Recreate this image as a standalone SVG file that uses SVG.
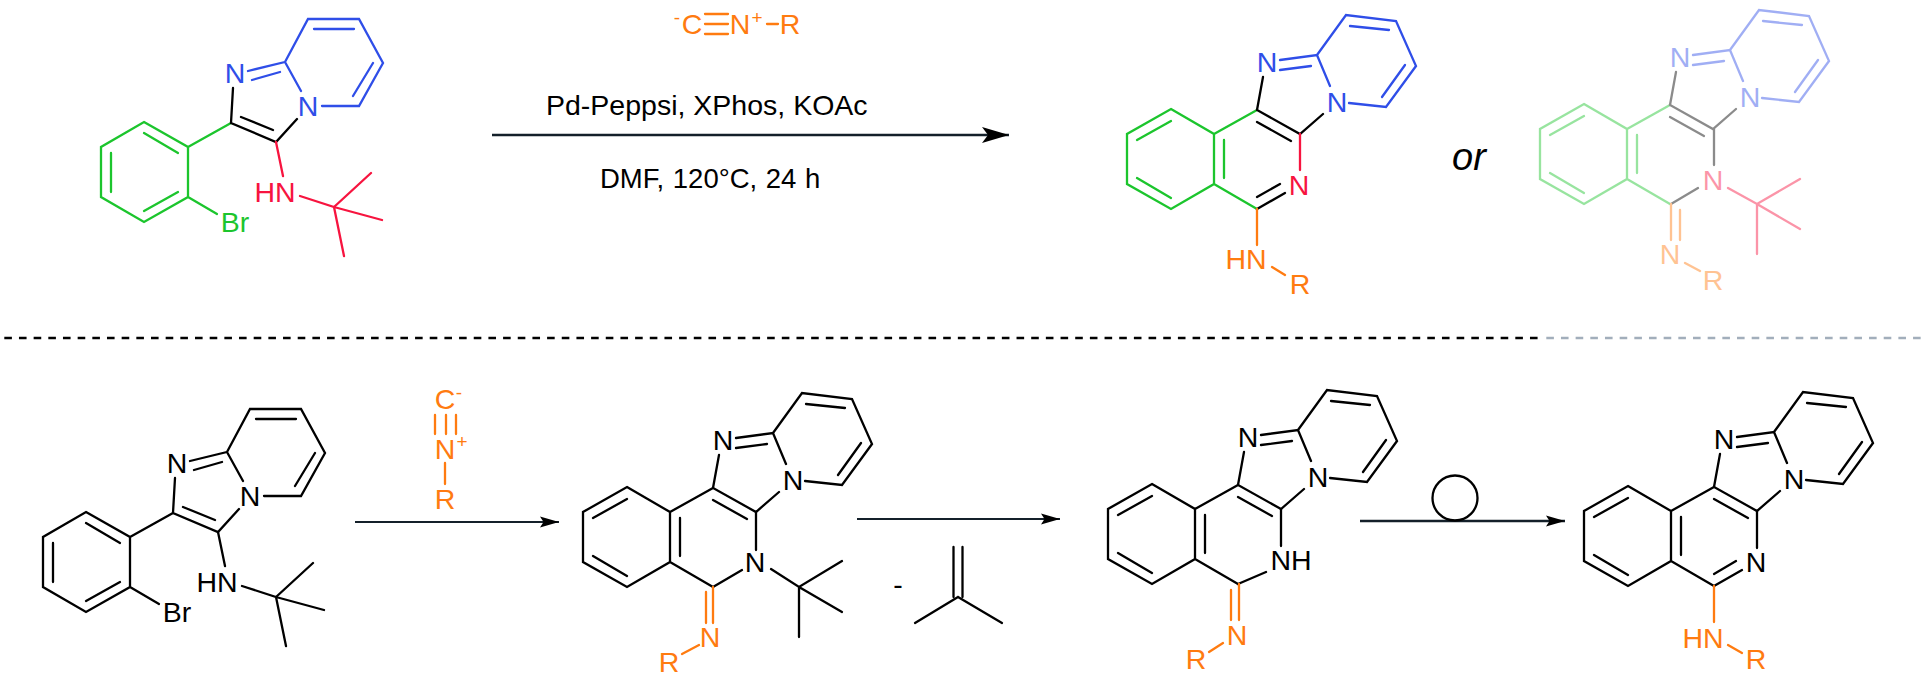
<svg xmlns="http://www.w3.org/2000/svg" xmlns:xlink="http://www.w3.org/1999/xlink" width="1924" height="676" viewBox="0 0 1924 676">
<style>
.l{fill:none;stroke-width:2.3;stroke-linecap:round;stroke-linejoin:miter}
.g{stroke:var(--g)}.b{stroke:var(--b)}.k{stroke:var(--k)}.r{stroke:var(--r)}.o{stroke:var(--o)}
text{font-family:"Liberation Sans",Arial,sans-serif;font-size:28.5px;text-anchor:middle}
.tg{fill:var(--g)}.tb{fill:var(--b)}.tr{fill:var(--r)}.to{fill:var(--o)}.tk{fill:var(--k)}
.sup{font-size:19px}
.color{--g:#1cc52d;--b:#2f4ee8;--r:#f7143f;--o:#ff7b10;--k:#000}
.mono{--g:#000;--b:#000;--r:#000;--o:#ff7b10;--k:#000}
.rxn{font-size:28.5px;fill:#000;text-anchor:start}
.arr{fill:none;stroke:#14202a;stroke-linecap:butt}
.dash{fill:none;stroke-width:2.4;stroke-dasharray:7.6 7.07}
</style>
<defs>
<marker id="headL" markerUnits="userSpaceOnUse" markerWidth="30" markerHeight="20" refX="27" refY="10" orient="auto"><path d="M0,2 L27,10 L0,18 L6,10Z" fill="#000"/></marker>
<marker id="headS" markerUnits="userSpaceOnUse" markerWidth="22" markerHeight="14" refX="19" refY="7" orient="auto"><path d="M0,1.5 L19,7 L0,12.5 L3.5,7Z" fill="#000"/></marker>
<g id="tetracycle">
<path class="l g" d="M0,0L43,25L43,75L0,100L-44,75L-44,25ZM-34,31L0,12M-34,69L0,89M53,31V69M43,25L86,1M43,75L86,100"/>
<path class="l k" d="M92,-32L86,1L129,25L152,5M86,13L120,32"/>
<path class="l b" d="M109,-49L146,-54L159,-23M109,-39L140,-43M146,-54L175,-94L225,-88L245,-43L215,-2L178,-6M179,-83L218,-79M234,-44L211,-12"/>
<text class="tb" x="96" y="-37">N</text>
<text class="tb" x="166" y="3">N</text>
</g>
<g id="substrate">
<path class="l g" d="M0,0L44,25L44,75L0,100L-43,75L-43,25ZM0,11L34,31M-33,31V70M0,89L34,70M44,25L87,1M44,75L73,92"/>
<text class="tg" x="91" y="110">Br</text>
<path class="l k" d="M89,-34L87,1L132,20L153,-3M97,-5L129,8"/>
<path class="l b" d="M104,-51L141,-60L157,-31M108,-42L136,-50M141,-60L164,-103L215,-103L239,-59L215,-16L178,-16M170,-93L210,-93M229,-59L209,-26"/>
<text class="tb" x="91" y="-39">N</text>
<text class="tb" x="164" y="-6">N</text>
<path class="l r" d="M132,20L139,54M156,74L190,85L227,51M190,85L238,98M190,85L200,134"/>
<text class="tr" x="131" y="80">HN</text>
</g>
</defs>

<g id="connectors">
<line class="arr" x1="492" y1="135" x2="1009" y2="135" stroke-width="2.6" marker-end="url(#headL)"/>
<line class="arr" x1="355" y1="522" x2="559" y2="522" stroke-width="2" marker-end="url(#headS)"/>
<line class="arr" x1="857" y1="519" x2="1060" y2="519" stroke-width="2" marker-end="url(#headS)"/>
<line class="arr" x1="1360" y1="521" x2="1565" y2="521" stroke-width="2.6" marker-end="url(#headS)"/>
<path class="dash" stroke="#000" d="M4.3,338H1539"/>
<path class="dash" stroke="#a2aebb" d="M1546.3,338H1924"/>
</g>

<g id="mol-substrate-top" class="color"><use xlink:href="#substrate" href="#substrate" transform="translate(144,122)"/></g>

<g id="reagent-top" class="color">
<text class="to sup" x="677" y="24">-</text>
<text class="to" x="692" y="34">C</text>
<path class="l o" d="M705,14H728M705,24H728M705,34H728M767,24H778"/>
<text class="to" x="740" y="34">N</text>
<text class="to sup" x="757" y="24">+</text>
<text class="to" x="790" y="34">R</text>
</g>
<g id="conditions">
<text class="rxn" x="546" y="115">Pd-Peppsi, XPhos, KOAc</text>
<text class="rxn" x="600" y="188" style="font-size:27.5px;word-spacing:1px">DMF,  120°C, 24 h</text>
</g>

<g id="mol-product-top" class="color">
<use xlink:href="#tetracycle" href="#tetracycle" transform="translate(1171,109)"/>
<path class="l r" d="M1300,134V170"/>
<path class="l k" d="M1257,209L1285,193M1257,197L1280,184"/>
<text class="tr" x="1299" y="195">N</text>
<path class="l o" d="M1257,209V245M1272,267L1285,275"/>
<text class="to" x="1246" y="269">HN</text>
<text class="to" x="1300" y="294">R</text>
</g>
<text id="or" x="1452" y="170" style="font-size:38px;font-style:italic;text-anchor:start;fill:#000">or</text>
<g id="mol-alt-top" class="color" opacity="0.45">
<use xlink:href="#tetracycle" href="#tetracycle" transform="translate(1584,104)"/>
<path class="l k" d="M1714,129V165M1671,204L1698,188"/>
<text class="tr" x="1713" y="190">N</text>
<path class="l r" d="M1728,188L1757,204L1800,179M1757,204L1800,229M1757,204V254"/>
<path class="l o" d="M1671,204V240M1680,210V240M1685,263L1700,271"/>
<text class="to" x="1670" y="264">N</text>
<text class="to" x="1713" y="290">R</text>
</g>

<g id="mol-substrate-bottom" class="mono"><use xlink:href="#substrate" href="#substrate" transform="translate(86,512)"/></g>

<g id="reagent-bottom" class="mono">
<text class="to" x="445" y="409">C</text>
<text class="to sup" x="459" y="399">-</text>
<path class="l o" d="M435,415V434M446,415V434M456,415V434M445,463V484"/>
<text class="to" x="445" y="459">N</text>
<text class="to sup" x="462" y="448">+</text>
<text class="to" x="445" y="509">R</text>
</g>

<g id="mol-intermediate-1" class="mono">
<use xlink:href="#tetracycle" href="#tetracycle" transform="translate(627,487)"/>
<path class="l k" d="M756,512V550M713,587L742,570"/>
<text class="tk" x="755" y="572">N</text>
<path class="l k" d="M771,569L799,587L842,561M799,587L842,612M799,587V637"/>
<path class="l o" d="M706,592V623M713,587V623M699,645L682,654"/>
<text class="to" x="710" y="647">N</text>
<text class="to" x="669" y="672">R</text>
</g>

<g id="loss-isobutene">
<text x="898" y="594" style="fill:#000">-</text>
<path class="l" stroke="#000" d="M953.5,547V597M962.5,547V597M958,597L915,623M958,597L1002,623"/>
</g>

<g id="mol-intermediate-2" class="mono">
<use xlink:href="#tetracycle" href="#tetracycle" transform="translate(1152,484)"/>
<path class="l k" d="M1281,509V546M1238,584L1266,572"/>
<text class="tk" x="1291" y="570">NH</text>
<path class="l o" d="M1231,590V620M1239,584V620M1223,643L1209,652"/>
<text class="to" x="1237" y="645">N</text>
<text class="to" x="1196" y="669">R</text>
</g>

<g id="oxidant"><circle cx="1455" cy="498" r="22.5" fill="none" stroke="#000" stroke-width="2.3"/></g>

<g id="mol-product-bottom" class="mono">
<use xlink:href="#tetracycle" href="#tetracycle" transform="translate(1628,486)"/>
<path class="l k" d="M1757,511V548M1714,586L1742,570M1714,574L1736,561"/>
<text class="tk" x="1756" y="572">N</text>
<path class="l o" d="M1714,586V622M1728,645L1742,653"/>
<text class="to" x="1703" y="648">HN</text>
<text class="to" x="1756" y="669">R</text>
</g>
</svg>
